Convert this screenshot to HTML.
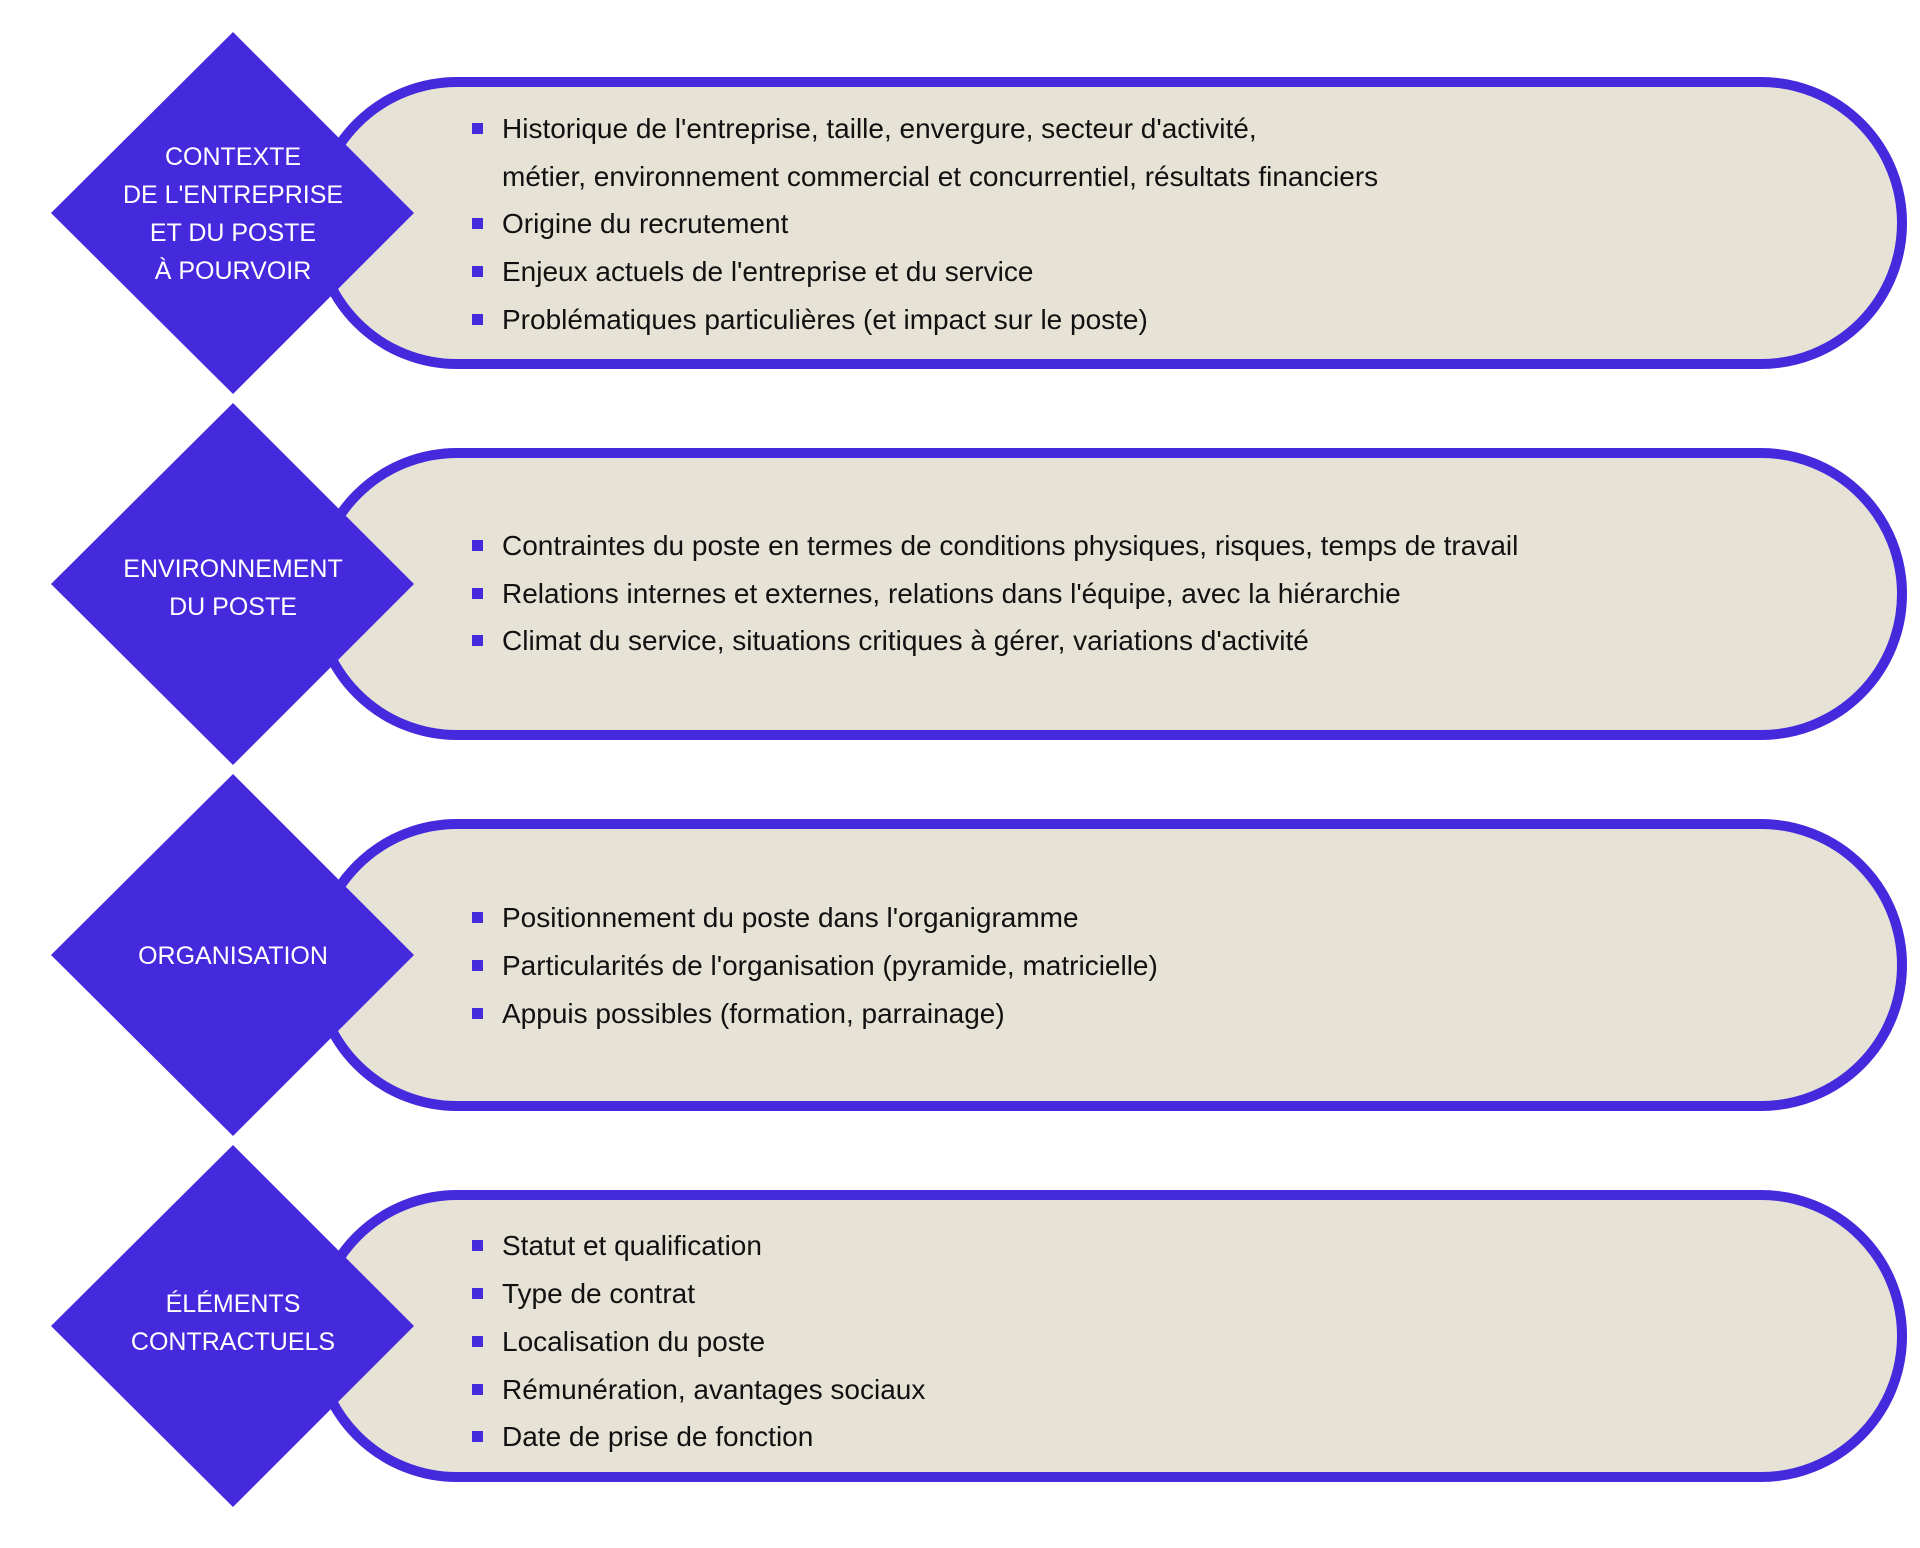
<!DOCTYPE html>
<html><head><meta charset="utf-8"><style>
html,body{margin:0;padding:0;background:#fff;}
svg{display:block;}
.t{font-family:"Liberation Sans",sans-serif;font-size:28px;fill:#111;}
.d{font-family:"Liberation Sans",sans-serif;font-size:25px;fill:#fff;text-anchor:middle;}
</style></head><body>
<svg width="1920" height="1548" viewBox="0 0 1920 1548" xmlns="http://www.w3.org/2000/svg">
<rect x="316" y="82" width="1586" height="282" rx="141" fill="#E7E2D6" stroke="#4529DD" stroke-width="10"/>
<polygon points="233,32 414,213 233,394 51,213" fill="#4529DD"/>
<rect x="316" y="453" width="1586" height="282" rx="141" fill="#E7E2D6" stroke="#4529DD" stroke-width="10"/>
<polygon points="233,403 414,584 233,765 51,584" fill="#4529DD"/>
<rect x="316" y="824" width="1586" height="282" rx="141" fill="#E7E2D6" stroke="#4529DD" stroke-width="10"/>
<polygon points="233,774 414,955 233,1136 51,955" fill="#4529DD"/>
<rect x="316" y="1195" width="1586" height="282" rx="141" fill="#E7E2D6" stroke="#4529DD" stroke-width="10"/>
<polygon points="233,1145 414,1326 233,1507 51,1326" fill="#4529DD"/>

<g class="d">
<text x="233" y="165">CONTEXTE</text>
<text x="233" y="203">DE L'ENTREPRISE</text>
<text x="233" y="241">ET DU POSTE</text>
<text x="233" y="279">À POURVOIR</text>
<text x="233" y="577">ENVIRONNEMENT</text>
<text x="233" y="615">DU POSTE</text>
<text x="233" y="964">ORGANISATION</text>
<text x="233" y="1312">ÉLÉMENTS</text>
<text x="233" y="1350">CONTRACTUELS</text>
</g>

<g fill="#4529DD">
<rect x="472" y="123" width="11" height="11"/>
<rect x="472" y="218" width="11" height="11"/>
<rect x="472" y="266" width="11" height="11"/>
<rect x="472" y="314" width="11" height="11"/>
<rect x="472" y="540" width="11" height="11"/>
<rect x="472" y="588" width="11" height="11"/>
<rect x="472" y="635" width="11" height="11"/>
<rect x="472" y="912" width="11" height="11"/>
<rect x="472" y="960" width="11" height="11"/>
<rect x="472" y="1008" width="11" height="11"/>
<rect x="472" y="1240" width="11" height="11"/>
<rect x="472" y="1288" width="11" height="11"/>
<rect x="472" y="1336" width="11" height="11"/>
<rect x="472" y="1384" width="11" height="11"/>
<rect x="472" y="1431" width="11" height="11"/>
</g>

<g class="t">
<text x="502" y="138">Historique de l'entreprise, taille, envergure, secteur d'activité,</text>
<text x="502" y="186">métier, environnement commercial et concurrentiel, résultats financiers</text>
<text x="502" y="233">Origine du recrutement</text>
<text x="502" y="281">Enjeux actuels de l'entreprise et du service</text>
<text x="502" y="329">Problématiques particulières (et impact sur le poste)</text>
<text x="502" y="555">Contraintes du poste en termes de conditions physiques, risques, temps de travail</text>
<text x="502" y="603">Relations internes et externes, relations dans l'équipe, avec la hiérarchie</text>
<text x="502" y="650">Climat du service, situations critiques à gérer, variations d'activité</text>
<text x="502" y="927">Positionnement du poste dans l'organigramme</text>
<text x="502" y="975">Particularités de l'organisation (pyramide, matricielle)</text>
<text x="502" y="1023">Appuis possibles (formation, parrainage)</text>
<text x="502" y="1255">Statut et qualification</text>
<text x="502" y="1303">Type de contrat</text>
<text x="502" y="1351">Localisation du poste</text>
<text x="502" y="1399">Rémunération, avantages sociaux</text>
<text x="502" y="1446">Date de prise de fonction</text>
</g>
</svg>
</body></html>
